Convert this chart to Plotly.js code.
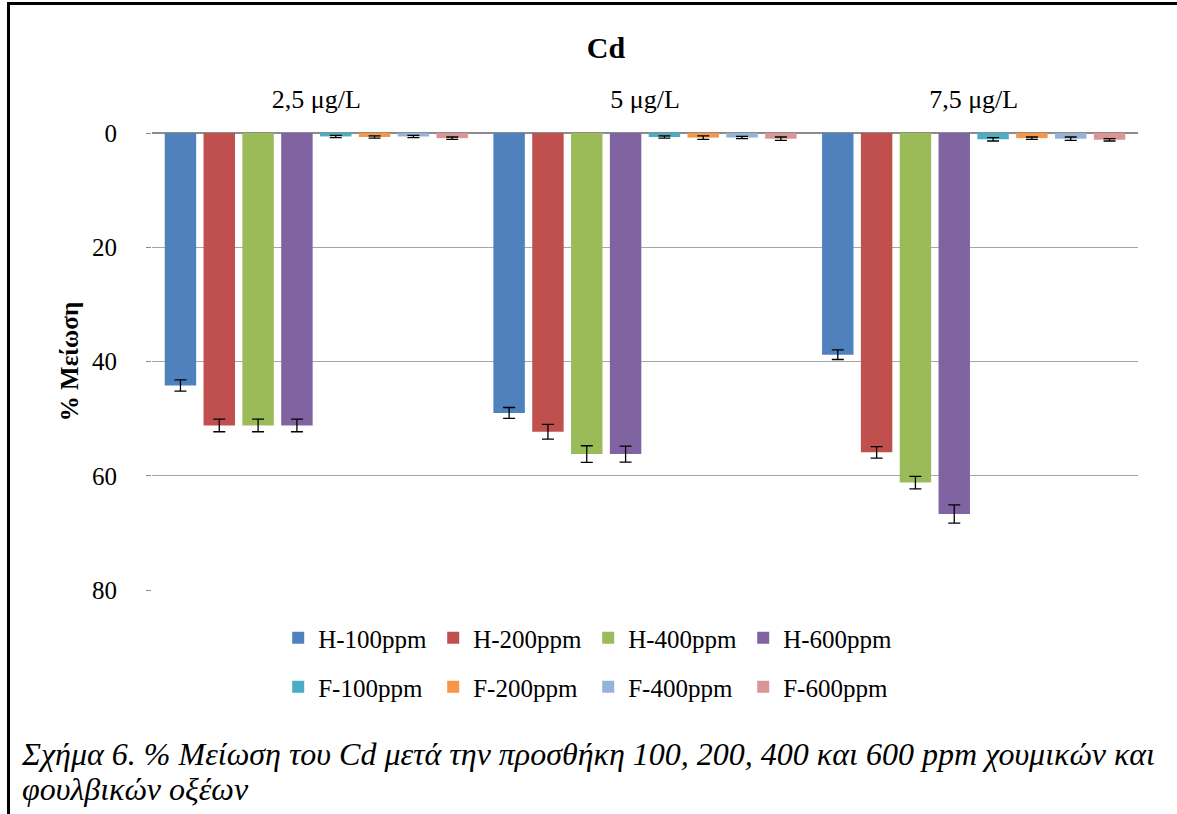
<!DOCTYPE html>
<html>
<head>
<meta charset="utf-8">
<script src="https://cdn.plot.ly/plotly-3.0.1.min.js"></script>
<style>
  html, body { margin: 0; padding: 0; background: #ffffff; }
  #wrap { position: relative; width: 1177px; height: 814px; overflow: hidden; }
  #chart { position: absolute; left: 0; top: 0; width: 1177px; height: 814px; }
  #frame { position: absolute; left: 7px; top: 2px; width: 1175px; height: 820px;
           border-top: 3px solid #000; border-left: 3px solid #000; pointer-events: none; }
  #caption { position: absolute; left: 22px; top: 737px; font-family: 'Liberation Serif', serif;
             font-style: italic; font-size: 32px; line-height: 35px; color: #000; white-space: nowrap; }
</style>
</head>
<body>
<div id="wrap">
  <div id="chart"></div>
  <div id="frame"></div>
  <div id="caption">Σχήμα 6. % Μείωση του Cd μετά την προσθήκη 100, 200, 400 και 600 ppm χουμικών και<br>φουλβικών οξέων</div>
</div>
<script>
// Categories (concentration groups)
const categories = ['2,5 μg/L', '5 μg/L', '7,5 μg/L'];

// Series names
const seriesNames = ['H-100ppm', 'H-200ppm', 'H-400ppm', 'H-600ppm',
                     'F-100ppm', 'F-200ppm', 'F-400ppm', 'F-600ppm'];

// % reduction values per series (one value per category)
const H100 = [44.2, 49.0, 38.8];
const H200 = [51.2, 52.3, 55.9];
const H400 = [51.2, 56.2, 61.2];
const H600 = [51.2, 56.2, 66.7];
const F100 = [0.6, 0.7, 1.1];
const F200 = [0.7, 0.8, 0.9];
const F400 = [0.6, 0.8, 1.0];
const F600 = [0.9, 1.0, 1.2];

// Error bar half-lengths
const H100err = [1.0, 0.95, 0.85];
const H200err = [1.1, 1.3, 1.0];
const H400err = [1.1, 1.45, 1.1];
const H600err = [1.1, 1.4, 1.6];
const F100err = [0.2, 0.2, 0.3];
const F200err = [0.2, 0.3, 0.2];
const F400err = [0.2, 0.2, 0.3];
const F600err = [0.2, 0.3, 0.2];

// Y-axis tick values
const yTicks = [0, 20, 40, 60, 80];

const seriesValues = [H100, H200, H400, H600, F100, F200, F400, F600];
const seriesErrors = [H100err, H200err, H400err, H600err, F100err, F200err, F400err, F600err];
const colors = ['#4F81BD', '#C0504D', '#9BBB59', '#8064A2',
                '#4BACC6', '#F79646', '#95B3D7', '#D99694'];

const FONT = 'Liberation Serif, serif';

const traces = seriesNames.map((name, i) => ({
  type: 'bar',
  name: name,
  x: categories,
  y: seriesValues[i],
  marker: { color: colors[i] },
  error_y: { type: 'data', array: seriesErrors[i], visible: true, color: '#000000', thickness: 1.3, width: 6 },
  legend: i < 4 ? 'legend' : 'legend2'
}));

const legendCommon = {
  orientation: 'h',
  xanchor: 'left',
  yanchor: 'middle',
  x: 0.128,
  font: { family: FONT, size: 25, color: '#000' },
  entrywidth: 110,
  entrywidthmode: 'pixels',
  bgcolor: 'rgba(0,0,0,0)',
  traceorder: 'normal'
};

const layout = {
  width: 1177,
  height: 814,
  paper_bgcolor: '#ffffff',
  plot_bgcolor: '#ffffff',
  margin: { l: 152, r: 39, t: 133, b: 224 },
  barmode: 'group',
  bargap: 0.055,
  bargroupgap: 0.19,
  showlegend: true,
  title: {
    text: '<b>Cd</b>',
    font: { family: FONT, size: 30, color: '#000' },
    x: 606 / 1177, xref: 'container', xanchor: 'center',
    y: 1 - 47 / 814, yref: 'container', yanchor: 'middle'
  },
  xaxis: {
    side: 'top',
    type: 'category',
    showgrid: false,
    showline: false,
    ticks: '',
    ticklabelstandoff: 19,
    tickfont: { family: FONT, size: 26, color: '#000' },
    fixedrange: true
  },
  yaxis: {
    range: [80, 0],
    tickvals: yTicks,
    ticktext: yTicks.map(String),
    showgrid: true,
    gridcolor: '#a6a6a6',
    gridwidth: 1,
    zeroline: true,
    zerolinecolor: '#8c8c8c',
    zerolinewidth: 1.5,
    showline: false,
    ticks: 'outside',
    ticklen: 5,
    tickcolor: '#8c8c8c',
    ticklabelstandoff: 24,
    tickfont: { family: FONT, size: 25, color: '#000' },
    title: { text: '<b>% Μείωση</b>', font: { family: FONT, size: 25, color: '#000' }, standoff: 6 },
    automargin: false,
    fixedrange: true
  },
  legend: Object.assign({}, legendCommon, { y: -(638 - 590) / 457 }),
  legend2: Object.assign({}, legendCommon, { y: -(687 - 590) / 457 })
};

Plotly.newPlot('chart', traces, layout, { displayModeBar: false, staticPlot: true });
</script>
</body>
</html>
